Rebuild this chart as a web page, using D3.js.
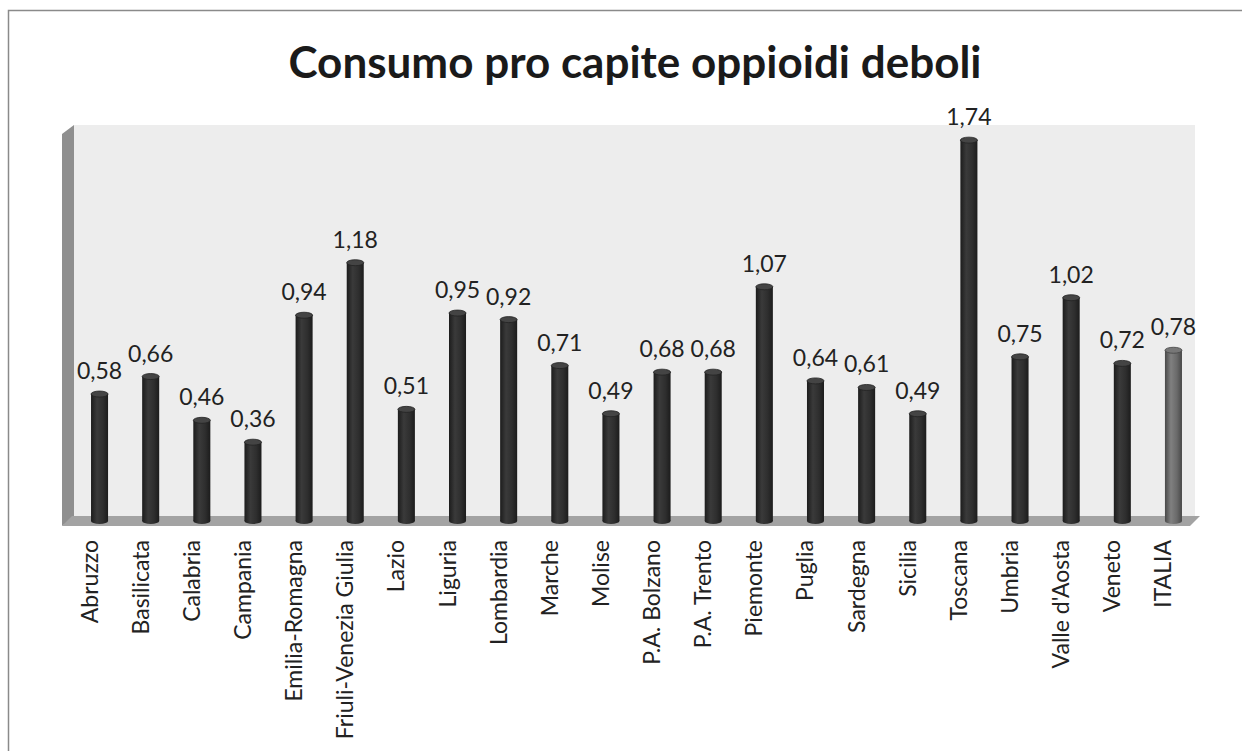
<!DOCTYPE html>
<html lang="it">
<head>
<meta charset="UTF-8">
<title>Consumo pro capite oppioidi deboli</title>
<script src="https://d3js.org/d3.v7.min.js"></script>
<style>
    body { margin: 0; background: #fff; }
    svg { display: block; }
    .title { font-family: Lato, sans-serif; font-weight: bold; font-size: 44px; fill: #1a1a1a; }
    .val { font-family: Lato, sans-serif; font-size: 23px; fill: #222; }
    .cat { font-family: Lato, sans-serif; font-size: 23px; fill: #222; }
</style>
</head>
<body>
<svg width="1242" height="751"></svg>
<script>
    // dati
    const regions = ["Abruzzo", "Basilicata", "Calabria", "Campania", "Emilia-Romagna",
        "Friuli-Venezia Giulia", "Lazio", "Liguria", "Lombardia", "Marche", "Molise",
        "P.A. Bolzano", "P.A. Trento", "Piemonte", "Puglia", "Sardegna", "Sicilia",
        "Toscana", "Umbria", "Valle d'Aosta", "Veneto", "ITALIA"];
    const consumo = [0.58, 0.66, 0.46, 0.36, 0.94, 1.18, 0.51, 0.95, 0.92, 0.71, 0.49,
        0.68, 0.68, 1.07, 0.64, 0.61, 0.49, 1.74, 0.75, 1.02, 0.72, 0.78];
    const titolo = "Consumo pro capite oppioidi deboli";

    const data = regions.map((r, i) => ({ name: r, value: consumo[i] }));
    const fmt = d3.format(".2f");
    const comma = v => fmt(v).replace(".", ",");

    const svg = d3.select("svg");
    const defs = svg.append("defs");

    // outer frame
    svg.append("rect")
        .attr("x", 8.5).attr("y", 10.5).attr("width", 1260).attr("height", 760)
        .attr("fill", "none").attr("stroke", "#8a8a8a").attr("stroke-width", 1.5);

    const x = d3.scaleBand().domain(regions).range([74, 1199])
        .paddingInner(0.667).paddingOuter(0.333);
    const y = d3.scaleLinear().domain([0, 1.8]).range([521, 127]);

    // gradients for cylinders
    function cyl(id, dark, mid, light) {
        const g = defs.append("linearGradient").attr("id", id)
            .attr("x1", "0").attr("x2", "1").attr("y1", "0").attr("y2", "0");
        g.append("stop").attr("offset", "0%").attr("stop-color", dark);
        g.append("stop").attr("offset", "35%").attr("stop-color", light);
        g.append("stop").attr("offset", "70%").attr("stop-color", mid);
        g.append("stop").attr("offset", "100%").attr("stop-color", dark);
    }
    cyl("gBar", "#1c1c1c", "#2e2e2e", "#3a3a3a");
    cyl("gIt", "#484848", "#6a6a6a", "#808080");

    // back wall
    const wallTop = y(1.8) - 2, floorY = y(0);
    svg.append("rect")
        .attr("x", x.range()[0]).attr("y", wallTop)
        .attr("width", x.range()[1] - x.range()[0] - 4).attr("height", floorY - wallTop)
        .attr("fill", "#ededed");

    // left side wall
    svg.append("path")
        .attr("d", d3.line()([[62, wallTop + 9], [74, wallTop], [74, floorY - 4], [62, floorY + 5]]))
        .attr("fill", "#8f8f8f");

    // floor
    svg.append("path")
        .attr("d", d3.line()([[72, floorY - 5], [x.range()[1] + 1, floorY - 5],
            [x.range()[1] - 9, floorY + 5], [62, floorY + 5]]))
        .attr("fill", "#a3a3a3");

    const bw = x.bandwidth();
    const bars = svg.append("g").selectAll("g").data(data).join("g");

    bars.append("rect")
        .attr("x", d => x(d.name))
        .attr("y", d => y(d.value))
        .attr("width", bw)
        .attr("height", d => y(0) - y(d.value))
        .attr("fill", d => d.name === "ITALIA" ? "url(#gIt)" : "url(#gBar)");

    bars.append("ellipse")
        .attr("cx", d => x(d.name) + bw / 2)
        .attr("cy", y(0))
        .attr("rx", bw / 2).attr("ry", 3)
        .attr("fill", d => d.name === "ITALIA" ? "url(#gIt)" : "url(#gBar)");

    bars.append("ellipse")
        .attr("cx", d => x(d.name) + bw / 2)
        .attr("cy", d => y(d.value))
        .attr("rx", bw / 2).attr("ry", 3)
        .attr("fill", d => d.name === "ITALIA" ? "#777" : "#444")
        .attr("stroke", d => d.name === "ITALIA" ? "#444" : "#222")
        .attr("stroke-width", 0.8);

    bars.append("text")
        .attr("class", "val")
        .attr("x", d => x(d.name) + bw / 2)
        .attr("y", d => y(d.value) - 15)
        .attr("text-anchor", "middle")
        .text(d => comma(d.value));

    // category labels
    svg.append("g").selectAll("text").data(regions).join("text")
        .attr("class", "cat")
        .attr("text-anchor", "end")
        .attr("transform", d => `translate(${x(d) + bw / 2 - 2},540) rotate(-90)`)
        .text(d => d);

    svg.append("text")
        .attr("class", "title")
        .attr("x", 635).attr("y", 78)
        .attr("text-anchor", "middle")
        .text(titolo);
</script>
</body>
</html>
